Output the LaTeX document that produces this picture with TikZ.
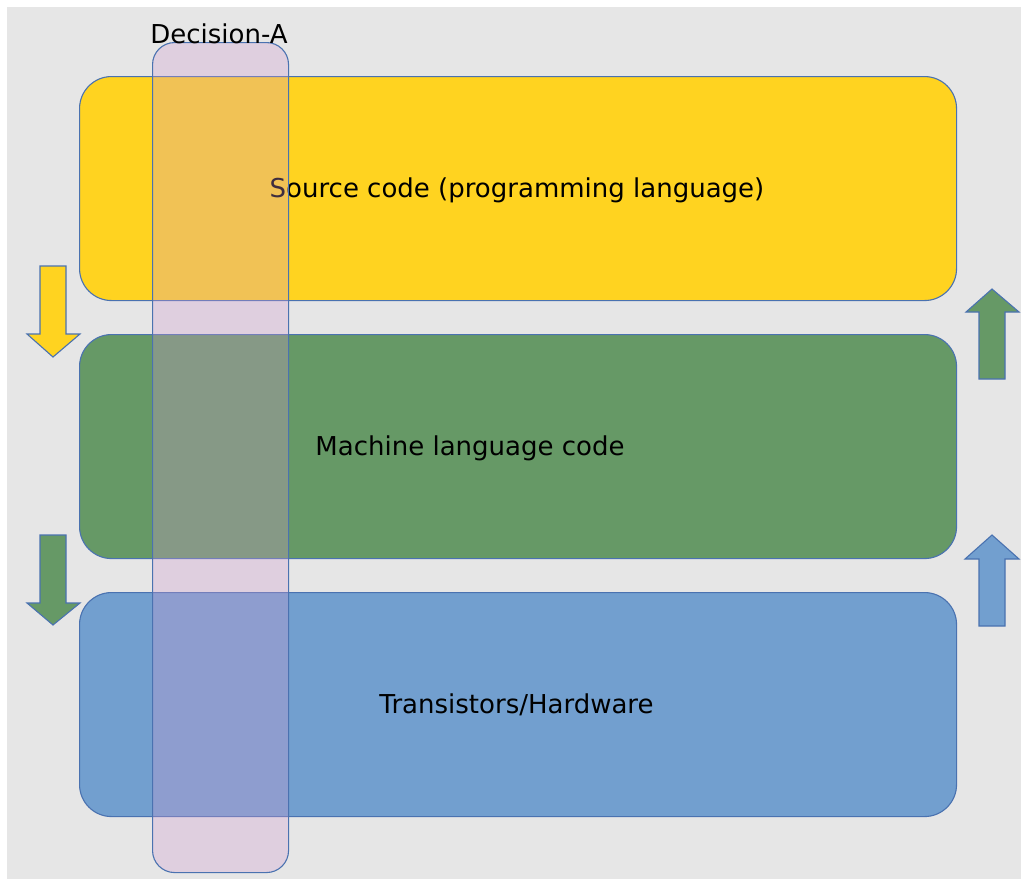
\documentclass[tikz,border=0pt]{standalone}
\usepackage{fontspec}
\setmainfont{DejaVu Sans}
\definecolor{bggray}{HTML}{E6E6E6}
\definecolor{edge}{HTML}{4A72B0}
\definecolor{ylw}{HTML}{FFD320}
\definecolor{grn}{HTML}{669966}
\definecolor{blu}{HTML}{729FCF}
\definecolor{prp}{HTML}{D29BD2}
\begin{document}
\begin{tikzpicture}[x=1pt,y=-1pt,
  layer/.style={draw=edge,line width=1.1pt,rounded corners=32pt,minimum width=877pt,minimum height=224pt,inner sep=0pt,anchor=north west},
  lbl/.style={font=\fontsize{26}{31}\selectfont,text=black,inner sep=0pt},
  arr/.style={draw=edge,line width=1.1pt,line join=miter}]
\useasboundingbox (0,0) rectangle (1021,879);
\fill[white] (0,0) rectangle (1021,879);
\fill[bggray] (7,7) rectangle (1021,879);
% layers
\node[layer,fill=ylw] (src) at (79,76) {};
\node[layer,fill=grn] (mach) at (79,334) {};
\node[layer,fill=blu] (hw) at (79,592) {};
\node[lbl] (srct) at (517,190) {Source code (programming language)};
\node[lbl] (macht) at (470,448) {Machine language code};
\node[lbl] (hwt) at (516.5,705) {Transistors/Hardware};
% arrows left (down)
\draw[arr,fill=ylw] (40,266) -- (66,266) -- (66,334) -- (80,334) -- (53,357) -- (27,334) -- (40,334) -- cycle;
\draw[arr,fill=grn] (40,535) -- (66,535) -- (66,603) -- (80,603) -- (53,625) -- (27,603) -- (40,603) -- cycle;
% arrows right (up)
\draw[arr,fill=grn] (979,379) -- (1005,379) -- (1005,312) -- (1019,312) -- (992,289) -- (966,312) -- (979,312) -- cycle;
\draw[arr,fill=blu] (979,626) -- (1005,626) -- (1005,559) -- (1019,559) -- (992,535) -- (965,559) -- (979,559) -- cycle;
% decision overlay
\node[draw=edge,line width=1.1pt,fill=prp,fill opacity=0.3,rounded corners=22pt,minimum width=136pt,minimum height=830pt,inner sep=0pt,anchor=north west] (dec) at (152,42) {};
\node[lbl,anchor=south] (dect) at (219,44) {Decision-A};
\end{tikzpicture}
\end{document}
